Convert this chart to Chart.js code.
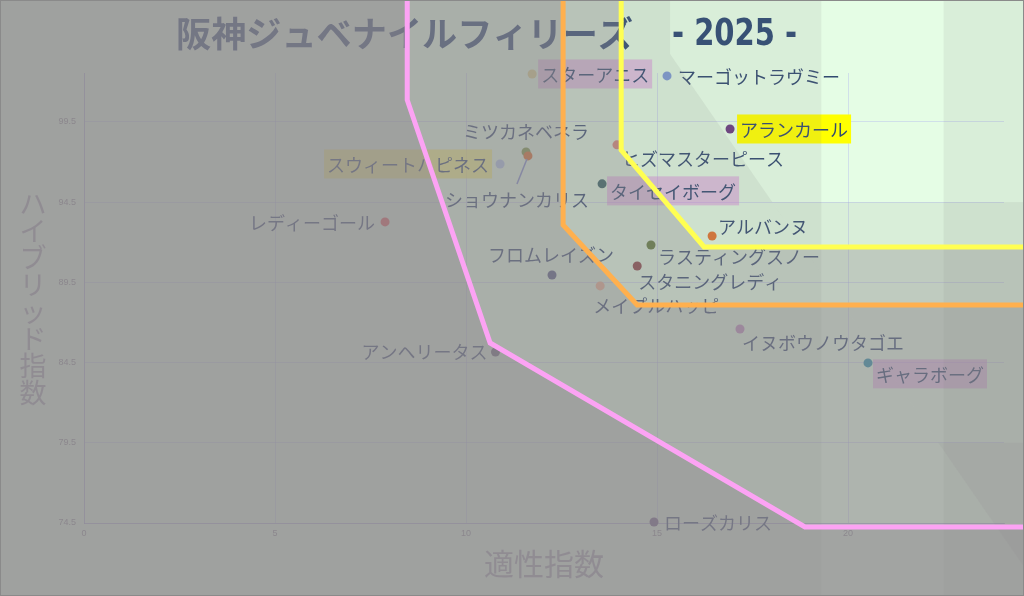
<!DOCTYPE html>
<html><head><meta charset="utf-8">
<script src="https://cdn.jsdelivr.net/npm/chart.js@4/dist/chart.umd.min.js"></script>
<style>html,body{margin:0;padding:0;background:#fff;overflow:hidden}canvas{display:block}</style>
</head><body>
<canvas id="c" width="1024" height="596"></canvas>
<script>
// ---- data ----
const horseNames = ['スターアニス','マーゴットラヴミー','アランカール','ミツカネベネラ','ショウナンカリス','スウィートハピネス','ヒズマスターピース','タイセイボーグ','アルバンヌ','ラスティングスノー','スタニングレディ','フロムレイズン','メイプルハッピー','イヌボウノウタゴエ','ギャラボーグ','レディーゴール','アンヘリータス','ローズカリス'];
const aptitudeIndex = [11.73,15.26,16.91,11.57,11.62,10.89,13.95,13.56,16.44,14.84,14.48,12.25,13.51,17.17,20.52,7.88,10.77,14.92];
const hybridIndex = [102.49,102.37,99.06,97.63,97.38,96.88,98.07,95.64,92.39,91.83,90.52,89.96,89.28,86.59,84.48,93.27,85.16,74.56];
const xTickValues = [0,5,10,15,20];
const yTickValues = [74.5,79.5,84.5,89.5,94.5,99.5];
const pinkLineX = [8.46,8.46,10.63,18.87,25.2];
const pinkLineY = [108,100.87,85.72,74.25,74.25];
const orangeLineX = [12.54,12.54,14.48,25.2];
const orangeLineY = [108,93.08,88.09,88.09];
const yellowLineX = [14.06,14.06,16.23,25.2];
const yellowLineY = [108,97.75,91.71,91.71];
const titleMain = '阪神ジュベナイルフィリーズ';
const titleYear = '- 2025 -';
const xTitle = '適性指数';
const yTitle = 'ハイブリッド指数';

// ---- styles ----
const pointColors = ['#dcd58a','#7d9bd6','#6b3f80','#7a9a40','#e06a20','#b0c8e8','#e08878','#2f6060','#e5742a','#5a7a30','#8a4040','#505a80','#f4b890','#c090c0','#2a90a8','#e85050','#606070','#6a5a80'];
// label placement: [dx, dy, align, boxColor]
const labelPlace = [
  [9,0,'left','rgba(225,130,225,0.45)'],
  [11,0,'left',null],
  [10,0,'left','#ffff00'],
  [0,-21,'center',null],
  [-11,43,'center',null],
  [-11,0,'right','rgba(255,240,60,0.55)'],
  [5,13,'left',null],
  [8,7,'left','rgba(225,130,225,0.45)'],
  [6,-10,'left',null],
  [7,11,'left',null],
  [1,15,'left',null],
  [-1,-21,'center',null],
  [-7,19,'left',null],
  [2,13,'left',null],
  [8,11,'left','rgba(225,130,225,0.45)'],
  [-10,0,'right',null],
  [-8,-1,'right',null],
  [10,0,'left',null]
];
const lightStrip = [19.3,22.5];
const shadeZoneX = [15.34,15.34,25.13];
const shadeZoneY = [108,103.74,69.95];
const darkBelow = [94.5,79.5];

const ptsData = aptitudeIndex.map((x,i)=>({x, y: hybridIndex[i]}));
const mk = (xs,ys)=>xs.map((x,i)=>({x,y:ys[i]}));

function zonePath(ctx, xs, ys, lx, ly, W, H, side){
  ctx.beginPath();
  lx.forEach((x,i)=>{ const px = xs.getPixelForValue(x), py = ys.getPixelForValue(ly[i]); i?ctx.lineTo(px,py):ctx.moveTo(px,py); });
  const lastX = xs.getPixelForValue(lx[lx.length-1]);
  const lastY = ys.getPixelForValue(ly[ly.length-1]);
  const firstX = xs.getPixelForValue(lx[0]);
  if(side==='below'){
    ctx.lineTo(Math.max(W+20,lastX),lastY); ctx.lineTo(Math.max(W+20,lastX),H+40); ctx.lineTo(-20,H+40); ctx.lineTo(-20,-40); ctx.lineTo(firstX,-40);
  } else {
    ctx.lineTo(Math.max(W+20,lastX),lastY); ctx.lineTo(Math.max(W+20,lastX),-40); ctx.lineTo(firstX,-40);
  }
  ctx.closePath();
}

const overlayPlugin = {
  id:'overlay',
  beforeDraw(chart){
    const ctx = chart.ctx;
    ctx.save();
    ctx.fillStyle = '#e5fde5';
    ctx.fillRect(0,0,chart.width,chart.height);
    ctx.restore();
  },
  afterDatasetDraw(chart,args){
    if(args.index!==0) return;
    const ctx = chart.ctx, xs = chart.scales.x, ys = chart.scales.y;
    const W = chart.width, H = chart.height;
    ctx.save();
    // leader line
    {
      const px = xs.getPixelForValue(aptitudeIndex[4]), py = ys.getPixelForValue(hybridIndex[4]);
      ctx.strokeStyle = '#8090d0'; ctx.lineWidth = 1.5;
      ctx.beginPath(); ctx.moveTo(px-1,py+3); ctx.lineTo(px-11,py+28); ctx.stroke();
    }
    // labels
    ctx.font = '18px "Noto Sans CJK JP", sans-serif';
    ctx.textBaseline = 'middle';
    horseNames.forEach((name,i)=>{
      const [dx,dy,align,box] = labelPlace[i];
      const px = xs.getPixelForValue(aptitudeIndex[i]) + dx;
      const py = ys.getPixelForValue(hybridIndex[i]) + dy;
      const w = ctx.measureText(name).width;
      let left = align==='left'?px:(align==='right'?px-w:px-w/2);
      if(box){ ctx.fillStyle = box; ctx.fillRect(left-3, py-14.5, w+6, 29); }
      ctx.fillStyle = '#324a70';
      ctx.textAlign = 'left';
      ctx.fillText(name, left, py+1);
    });
    // title
    ctx.textBaseline = 'middle';
    ctx.fillStyle = '#2e4b74';
    ctx.font = 'bold 35px "Noto Sans CJK JP", sans-serif';
    let tw = ctx.measureText(titleMain).width;
    ctx.save(); ctx.translate(176,34); ctx.scale(457/tw,1); ctx.fillText(titleMain,0,0); ctx.restore();
    ctx.font = 'bold 38px "Liberation Sans Narrow", "DejaVu Sans Condensed", sans-serif';
    tw = ctx.measureText(titleYear).width;
    ctx.save(); ctx.translate(672,35); ctx.scale(125/tw,1); ctx.fillText(titleYear,0,0); ctx.restore();
    // axis titles
    ctx.fillStyle = '#a4a6b0';
    ctx.font = '30px "Noto Sans CJK JP", sans-serif';
    ctx.textAlign = 'center';
    ctx.fillText(xTitle, 544, 564);
    ctx.font = '27px "Noto Sans CJK JP", sans-serif';
    [...yTitle].forEach((ch,i)=>{ ctx.fillText(ch, 33, 204 + i*27); });

    // background shading overlays
    const shade = 'rgba(128,128,128,0.12)';
    ctx.fillStyle = shade;
    const s0 = xs.getPixelForValue(lightStrip[0]), s1 = xs.getPixelForValue(lightStrip[1]);
    ctx.fillRect(-10,-10,s0+10,H+20);
    ctx.fillRect(s1,-10,W-s1+10,H+20);
    zonePath(ctx,xs,ys,shadeZoneX,shadeZoneY,W,H,'below'); ctx.fill();
    ctx.save();
    zonePath(ctx,xs,ys,shadeZoneX,shadeZoneY,W,H,'above'); ctx.clip();
    darkBelow.forEach(v=>{ const p = ys.getPixelForValue(v); ctx.fillRect(-10,p,W+20,H-p+10); });
    ctx.restore();
    // zone overlays
    ctx.fillStyle = 'rgba(140,134,140,0.33)';
    [[pinkLineX,pinkLineY],[orangeLineX,orangeLineY],[yellowLineX,yellowLineY]].forEach(([lx,ly])=>{
      zonePath(ctx,xs,ys,lx,ly,W,H,'below'); ctx.fill();
    });
    ctx.restore();
  },
  afterDraw(chart){
    const ctx = chart.ctx;
    ctx.save(); ctx.strokeStyle = '#8a8a8a'; ctx.lineWidth = 1;
    ctx.strokeRect(0.5,0.5,chart.width-1,chart.height-1); ctx.restore();
  }
};

const lineDs = (xs,ys,color)=>({type:'scatter',data:mk(xs,ys),showLine:true,borderColor:color,borderWidth:5,pointRadius:0,fill:false,tension:0,clip:false,order:0});

new Chart(document.getElementById('c'),{
  type:'scatter',
  data:{datasets:[
    {data:ptsData,pointRadius:4.5,pointBackgroundColor:pointColors,pointBorderWidth:0,clip:false,order:1},
    lineDs(pinkLineX,pinkLineY,'#fca3f4'),
    lineDs(orangeLineX,orangeLineY,'#ffb04e'),
    lineDs(yellowLineX,yellowLineY,'#ffff52')
  ]},
  options:{
    responsive:false, animation:false, devicePixelRatio:1,
    layout:{padding:{top:73,right:20,bottom:0,left:0}},
    plugins:{legend:{display:false},tooltip:{enabled:false},title:{display:false}},
    scales:{
      x:{type:'linear',min:0,max:24.08,
        afterFit:s=>{s.height=73;},
        afterBuildTicks:s=>{s.ticks=xTickValues.map(v=>({value:v}));},
        ticks:{font:{size:9},color:'#8f9096',padding:5},
        grid:{color:'rgba(170,170,240,0.35)',drawTicks:false},
        border:{color:'rgba(150,150,200,0.5)'}},
      y:{type:'linear',min:74.5,max:102.55,
        afterFit:s=>{s.width=84;},
        afterBuildTicks:s=>{s.ticks=yTickValues.map(v=>({value:v}));},
        ticks:{font:{size:9},color:'#8f9096',padding:8},
        grid:{color:'rgba(170,170,240,0.35)',drawTicks:false},
        border:{color:'rgba(150,150,200,0.5)'}}
    }
  },
  plugins:[overlayPlugin]
});
</script>
</body></html>
